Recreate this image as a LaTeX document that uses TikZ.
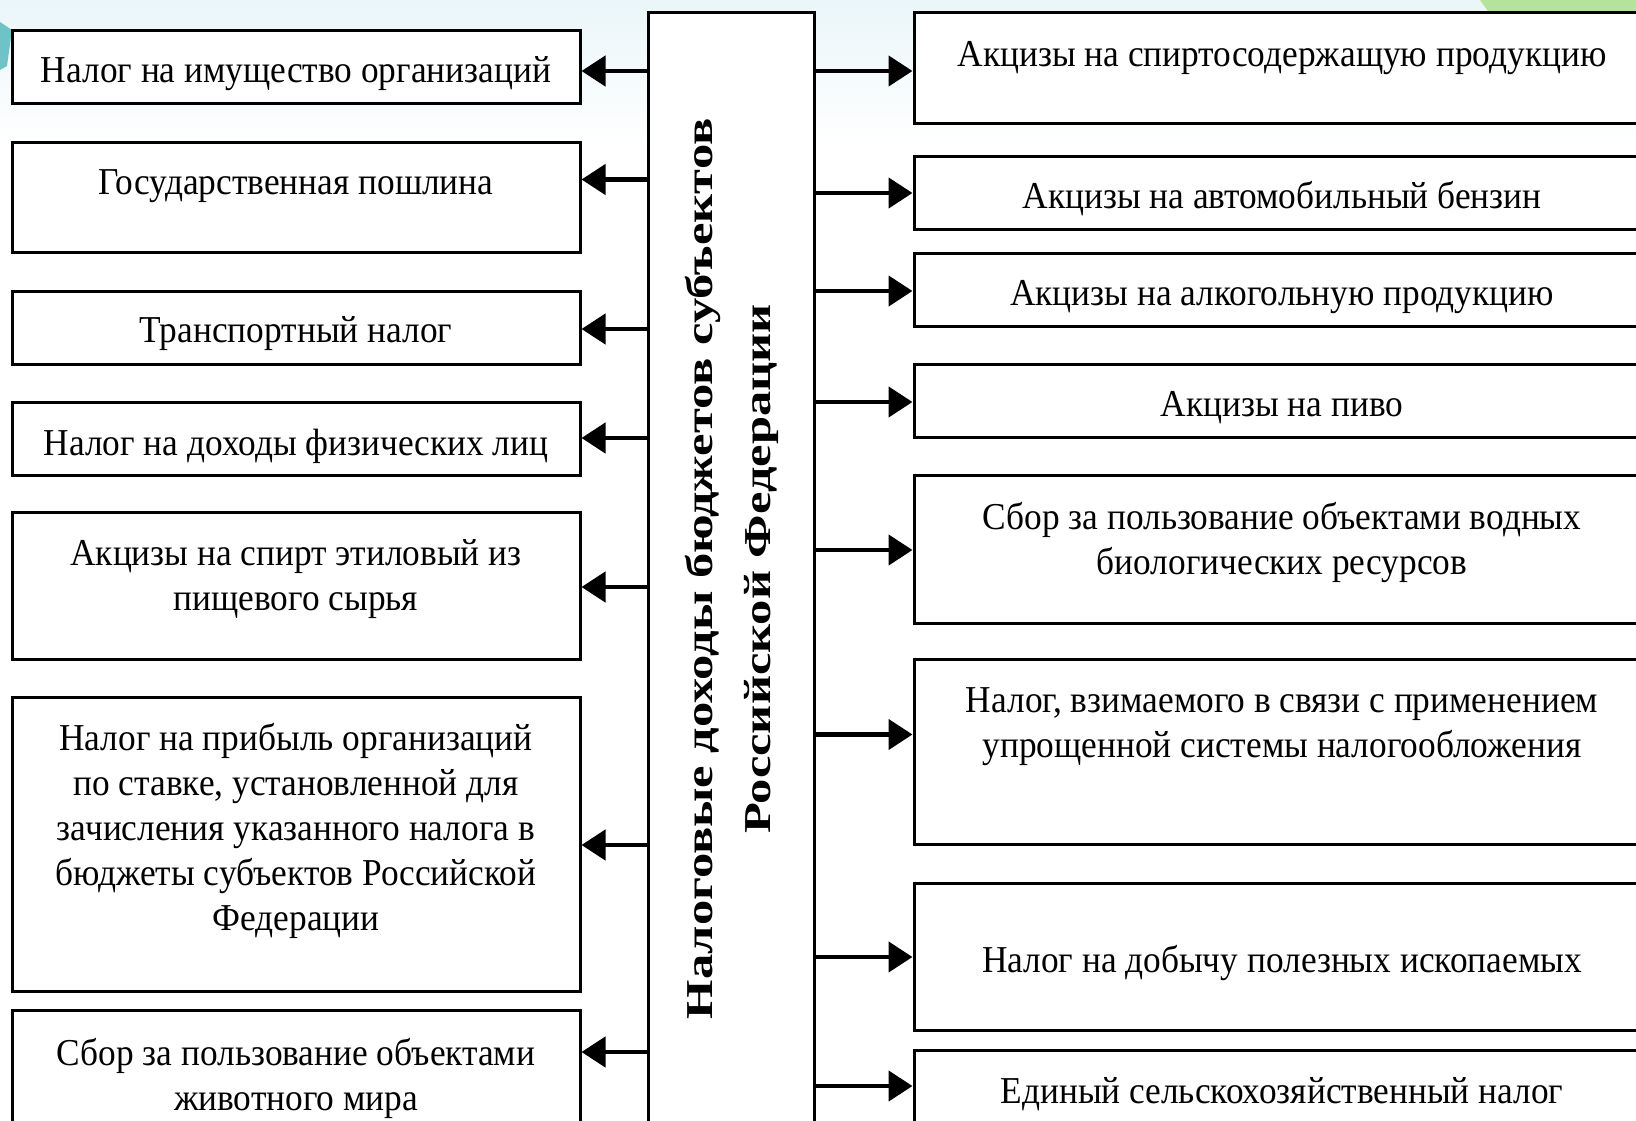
\documentclass[tikz,border=0pt]{standalone}
\usepackage{fontspec}
\setmainfont{Liberation Serif}[FakeStretch=0.93]
\newfontfamily\ctrfont{Liberation Serif}[FakeStretch=1.33]
\usetikzlibrary{arrows.meta}
\definecolor{bgtop}{HTML}{EAF6F9}
\definecolor{bgmid}{HTML}{D4EDF3}
\definecolor{tealc}{HTML}{6FC3C6}
\definecolor{greenc}{HTML}{B4E39C}
\begin{document}
\begin{tikzpicture}[x=1pt,y=-1pt,
  box/.style={draw, line width=3pt, fill=white, inner sep=0pt},
  lbl/.style={font=\fontsize{38}{45}\selectfont, align=center, inner sep=0pt},
  ctr/.style={font=\ctrfont\bfseries\fontsize{38}{58}\selectfont, align=center, inner sep=0pt, rotate=90},
  arr/.style={line width=4.5pt, -{Triangle[length=24pt,width=30pt]}}]
\useasboundingbox (0,0) rectangle (1636,1121);
\clip (0,0) rectangle (1636,1121);
% background
\fill[white] (0,0) rectangle (1636,1121);
\shade[top color=bgtop, middle color=bgmid, bottom color=white] (0,0) rectangle (1636,145);
\fill[tealc] (0,22) -- (12,30) -- (7,66) -- (0,70) -- cycle;
\fill[greenc] (1480,0) -- (1636,0) -- (1636,22) -- (1500,28) -- cycle;

% central box
\node[box, minimum width=166pt, minimum height=1147pt] (C) at (731,586) {};
\node[ctr] (Ct) at (732,569) {Налоговые доходы бюджетов субъектов\\Российской Федерации};

% left boxes
\node[box, minimum width=568pt, minimum height=73pt]  (L1) at (296,67.5) {};
\node[box, minimum width=568pt, minimum height=109pt] (L2) at (296,197.5) {};
\node[box, minimum width=568pt, minimum height=73pt]  (L3) at (296,327.5) {};
\node[box, minimum width=568pt, minimum height=73pt]  (L4) at (296,438.5) {};
\node[box, minimum width=568pt, minimum height=147pt] (L5) at (296,585.5) {};
\node[box, minimum width=568pt, minimum height=294pt] (L6) at (296,844) {};
\node[box, minimum width=568pt, minimum height=150pt] (L7) at (296,1085) {};

\node[lbl] (L1t) at (296,74) {Налог на имущество организаций};
\node[lbl] (L2t) at (296,186) {Государственная пошлина};
\node[lbl] (L3t) at (296,334) {Транспортный налог};
\node[lbl] (L4t) at (296,446) {Налог на доходы физических лиц};
\node[lbl] (L5t) at (296,579) {Акцизы на спирт этиловый из\\пищевого сырья};
\node[lbl] (L6t) at (296,831) {Налог на прибыль организаций\\по ставке, установленной для\\зачисления указанного налога в\\бюджеты субъектов Российской\\Федерации};
\node[lbl] (L7t) at (296,1078) {Сбор за пользование объектами\\животного мира};

% right boxes
\node[box, minimum width=736pt, minimum height=111.5pt] (R1) at (1282,68) {};
\node[box, minimum width=736pt, minimum height=73pt]  (R2) at (1282,193) {};
\node[box, minimum width=736pt, minimum height=73pt]  (R3) at (1282,290) {};
\node[box, minimum width=736pt, minimum height=73pt]  (R4) at (1282,400.5) {};
\node[box, minimum width=736pt, minimum height=148pt] (R5) at (1282,549) {};
\node[box, minimum width=736pt, minimum height=185pt] (R6) at (1282,751.5) {};
\node[box, minimum width=736pt, minimum height=147pt] (R7) at (1282,956.5) {};
\node[box, minimum width=736pt, minimum height=120pt] (R8) at (1282,1110) {};

\node[lbl] (R1t) at (1282,58) {Акцизы на спиртосодержащую продукцию};
\node[lbl] (R2t) at (1282,199) {Акцизы на автомобильный бензин};
\node[lbl] (R3t) at (1282,297) {Акцизы на алкогольную продукцию};
\node[lbl] (R4t) at (1282,408) {Акцизы на пиво};
\node[lbl] (R5t) at (1282,542) {Сбор за пользование объектами водных\\биологических ресурсов};
\node[lbl] (R6t) at (1282,727) {Налог, взимаемого в связи с применением\\упрощенной системы налогообложения};
\node[lbl] (R7t) at (1282,963) {Налог на добычу полезных ископаемых};
\node[lbl] (R8t) at (1282,1094) {Единый сельскохозяйственный налог};

% arrow levels
\coordinate (la1) at (0,71);
\coordinate (la2) at (0,179.5);
\coordinate (la3) at (0,329);
\coordinate (la4) at (0,438);
\coordinate (la5) at (0,587);
\coordinate (la6) at (0,845);
\coordinate (la7) at (0,1052);
\coordinate (ra1) at (0,71);
\coordinate (ra2) at (0,193);
\coordinate (ra3) at (0,291);
\coordinate (ra4) at (0,402);
\coordinate (ra5) at (0,550);
\coordinate (ra6) at (0,734.5);
\coordinate (ra7) at (0,957);
\coordinate (ra8) at (0,1086);

\foreach \i in {1,...,7} {
  \draw[arr] (C.west |- la\i) -- (L\i.east |- la\i);
}
\foreach \i in {1,...,8} {
  \draw[arr] (C.east |- ra\i) -- (R\i.west |- ra\i);
}
\end{tikzpicture}
\end{document}
